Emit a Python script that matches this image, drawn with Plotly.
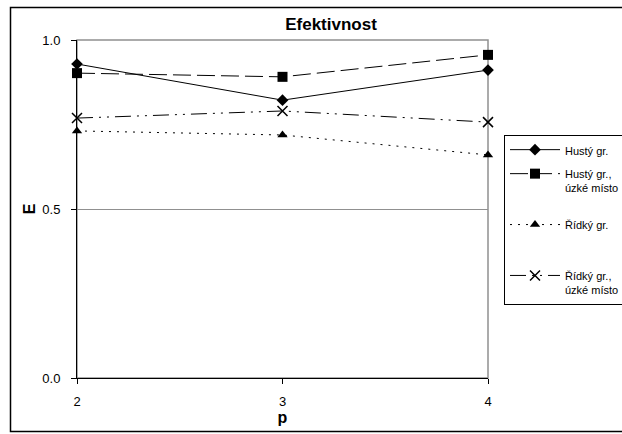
import plotly.graph_objects as go

# Efficiency E versus number of processors p for four graph variants
p_values = [2, 3, 4]
husty = [0.929, 0.822, 0.911]
husty_uzke = [0.902, 0.891, 0.956]
ridky = [0.731, 0.719, 0.660]
ridky_uzke = [0.769, 0.790, 0.757]

# legend labels (trailing blank lines give the taller legend slots)
series_names = [
    "Hustý gr.",
    "Hustý gr., <br>úzké místo<br> ",
    "Řídký gr.<br> <br> ",
    "Řídký gr., <br>úzké místo",
]

W, H = 622, 434
L, R, T, B = 77, 134, 40, 56
plot_w = W - L - R
plot_h = H - T - B

FONT = "Liberation Sans, Arial, sans-serif"

fig = go.Figure()

styles = [
    dict(values=husty, dash="solid", symbol="diamond", size=9),
    dict(values=husty_uzke, dash="18px,6px", symbol="square", size=10),
    dict(values=ridky, dash="2px,6px", symbol="triangle-up", size=9),
    dict(values=ridky_uzke, dash="16px,6px,2px,6px,2px,6px", symbol="x-thin-open", size=10),
]

for i, (name, st) in enumerate(zip(series_names, styles)):
    marker = dict(symbol=st["symbol"], size=st["size"], color="black")
    if st["symbol"] == "x-thin-open":
        marker["line"] = dict(color="black", width=1.5)
    fig.add_trace(go.Scatter(
        x=p_values, y=st["values"], name=name, mode="lines+markers",
        line=dict(color="black", width=1, dash=st["dash"]),
        marker=marker, legendgroup=f"g{i}", cliponaxis=False,
    ))

def px_to_paper_x(px):
    return (px - L) / plot_w

def px_to_paper_y(py):
    return (H - B - py) / plot_h

shapes = [
    # gray frame on top/right of plot area
    dict(type="rect", xref="paper", yref="paper", x0=0, x1=1, y0=0, y1=1,
         line=dict(color="#909090", width=1.5), layer="below"),
    # outer chart border
    dict(type="rect", xref="paper", yref="paper",
         x0=px_to_paper_x(10.5), x1=px_to_paper_x(640), y0=px_to_paper_y(431.5), y1=px_to_paper_y(7.5),
         line=dict(color="black", width=1.5)),
]

fig.update_layout(
    width=W, height=H,
    margin=dict(l=L, r=R, t=T, b=B, autoexpand=False),
    paper_bgcolor="white", plot_bgcolor="white",
    font=dict(family=FONT, color="black", size=13),
    title=dict(text="<b>Efektivnost</b>", x=331 / W, xref="container", xanchor="center",
               y=1 - 24 / H, yref="container", yanchor="middle",
               font=dict(size=17, family=FONT, color="black")),
    shapes=shapes,
    showlegend=True,
    legend=dict(
        xref="container", yref="container", x=504 / W, y=1 - 135 / H,
        xanchor="left", yanchor="top",
        bordercolor="black", borderwidth=1, bgcolor="white",
        font=dict(size=11, family=FONT, color="black"),
        tracegroupgap=5, itemwidth=50, valign="top",
    ),
    xaxis=dict(
        range=[2, 4], tickvals=p_values, ticktext=["2", "3", "4"],
        showgrid=False, zeroline=False, showline=True, linecolor="black", linewidth=1,
        ticks="outside", ticklen=5, tickcolor="black", ticklabelstandoff=6,
        tickfont=dict(size=13, family=FONT),
        title=dict(text="<b>p</b>", font=dict(size=16, family=FONT), standoff=0),
    ),
    yaxis=dict(
        range=[0, 1], tickvals=[0, 0.5, 1.0], ticktext=["0.0", "0.5", "1.0"],
        showgrid=True, gridcolor="#909090", gridwidth=1,
        zeroline=False, showline=True, linecolor="black", linewidth=1,
        ticks="outside", ticklen=5, tickcolor="black", ticklabelstandoff=8,
        tickfont=dict(size=13, family=FONT),
        title=dict(text="<b>E</b>", font=dict(size=16, family=FONT), standoff=2),
    ),
)

fig.write_html("out.html")
